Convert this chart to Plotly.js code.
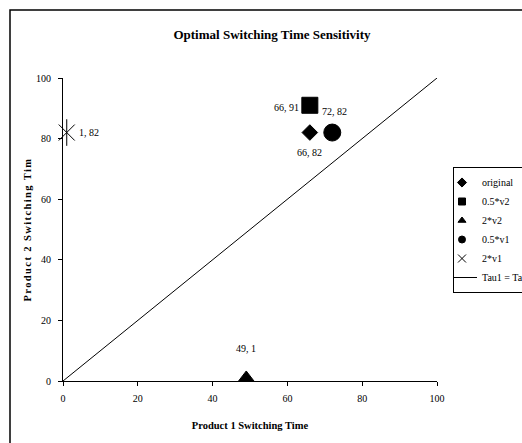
<!DOCTYPE html>
<html>
<head>
<meta charset="utf-8">
<script src="https://cdn.plot.ly/plotly-3.0.1.min.js"></script>
<style>
  html, body { margin: 0; padding: 0; background: #fff; }
  #chart { width: 522px; height: 443px; }
  /* the vertical axis title is set with wider letter spacing */
  #chart .g-ytitle text { letter-spacing: 1.4px; }
</style>
</head>
<body>
<div id="chart"></div>
<script>
// Scenario results: optimal switching times for products 1 and 2
const scenarioNames = ['original', '0.5*v2', '2*v2', '0.5*v1', '2*v1'];
const product1Times = [66, 66, 49, 72, 1];
const product2Times = [82, 91, 1, 82, 82];

// Reference diagonal Tau1 = Tau2
const diagonalName = 'Tau1 = Tau2';
const diagonalX = [0, 100];
const diagonalY = [0, 100];

const xTicks = [0, 20, 40, 60, 80, 100];
const yTicks = [0, 20, 40, 60, 80, 100];

const serif = 'Liberation Serif, Times New Roman, serif';

// marker style per scenario (plot size, legend size)
const markerStyles = [
  { symbol: 'diamond', size: 12, legendSize: 7 },
  { symbol: 'square', size: 16, legendSize: 7 },
  { symbol: 'triangle-up', size: 14, legendSize: 7 },
  { symbol: 'circle', size: 17, legendSize: 7 },
  { symbol: 'x-thin-open', size: 16, legendSize: 8 }
];
// label placement offsets (px) per scenario
const labelOffsets = [
  { xshift: 0, yshift: -20, xanchor: 'center' },
  { xshift: -9, yshift: -2, xanchor: 'right' },
  { xshift: 0, yshift: 29, xanchor: 'center' },
  { xshift: 2, yshift: 21, xanchor: 'center' },
  { xshift: 10, yshift: 0, xanchor: 'left' }
];

// plotted scenario markers
const traces = scenarioNames.map((name, i) => ({
  type: 'scatter',
  mode: 'markers',
  name: name,
  x: [product1Times[i]],
  y: [product2Times[i]],
  marker: {
    symbol: markerStyles[i].symbol,
    size: markerStyles[i].size,
    color: '#000',
    line: { color: '#000', width: 1 }
  },
  showlegend: false,
  cliponaxis: false
}));

// vertical stroke completing the six-armed star marker of the last scenario
const last = scenarioNames.length - 1;
traces.push({
  type: 'scatter',
  mode: 'markers',
  x: [product1Times[last]],
  y: [product2Times[last]],
  marker: { symbol: 'line-ns-open', size: 19, color: '#000', line: { color: '#000', width: 1 } },
  showlegend: false,
  cliponaxis: false
});

// diagonal line
traces.push({
  type: 'scatter',
  mode: 'lines',
  name: diagonalName,
  x: diagonalX,
  y: diagonalY,
  line: { color: '#000', width: 1 },
  showlegend: false
});

// legend entries with small symbols (no points of their own)
scenarioNames.forEach((name, i) => {
  traces.push({
    type: 'scatter',
    mode: 'markers',
    name: name,
    x: [null],
    y: [null],
    marker: {
      symbol: markerStyles[i].symbol,
      size: markerStyles[i].legendSize,
      color: '#000',
      line: { color: '#000', width: 1 }
    },
    showlegend: true
  });
});
traces.push({
  type: 'scatter',
  mode: 'lines',
  name: diagonalName,
  x: [null],
  y: [null],
  line: { color: '#000', width: 1 },
  showlegend: true
});

const annotations = scenarioNames.map((name, i) => ({
  x: product1Times[i],
  y: product2Times[i],
  xref: 'x', yref: 'y',
  text: product1Times[i] + ', ' + product2Times[i],
  showarrow: false,
  xanchor: labelOffsets[i].xanchor,
  yanchor: 'middle',
  xshift: labelOffsets[i].xshift,
  yshift: labelOffsets[i].yshift,
  font: { family: serif, size: 10, color: '#000' }
}));

const axisCommon = {
  range: [0, 100],
  showgrid: false,
  zeroline: false,
  showline: true,
  linecolor: '#000',
  linewidth: 1,
  ticks: 'outside',
  ticklen: 4,
  tickcolor: '#000',
  tickfont: { family: serif, size: 10, color: '#000' },
  fixedrange: true
};

const layout = {
  width: 522,
  height: 443,
  margin: { l: 63, r: 85, t: 78, b: 62, autoexpand: false },
  paper_bgcolor: '#fff',
  plot_bgcolor: '#fff',
  font: { family: serif, color: '#000' },
  title: {
    text: '<b>Optimal Switching Time Sensitivity</b>',
    font: { family: serif, size: 13, color: '#000' },
    x: (272 - 63) / 374, xref: 'paper', xanchor: 'center',
    y: 1 - 34 / 443, yanchor: 'middle'
  },
  xaxis: Object.assign({}, axisCommon, {
    tickvals: xTicks,
    ticklabelstandoff: 4,
    title: { text: '<b>Product 1 Switching Time</b>', font: { family: serif, size: 10.5, color: '#000' }, standoff: 18 }
  }),
  yaxis: Object.assign({}, axisCommon, {
    tickvals: yTicks,
    ticklabelstandoff: 5,
    title: { text: '<b>Product 2 Switching Tim</b>', font: { family: serif, size: 10.5, color: '#000' }, standoff: 2 }
  }),
  legend: {
    x: (453 - 63) / 374,
    y: (381 - 167) / 303,
    xanchor: 'left',
    yanchor: 'top',
    bgcolor: '#fff',
    bordercolor: '#000',
    borderwidth: 1,
    font: { family: serif, size: 10, color: '#000' },
    itemsizing: 'trace',
    itemwidth: 30,
    indentation: -12,
    tracegroupgap: 0
  },
  annotations: annotations,
  shapes: [{
    // outer chart frame
    type: 'rect',
    xref: 'paper', yref: 'paper',
    x0: (10 - 63) / 374, x1: 1.6,
    y0: -0.5, y1: (381 - 10) / 303,
    line: { color: '#000', width: 1.5 },
    fillcolor: 'rgba(0,0,0,0)',
    layer: 'below'
  }],
  showlegend: true
};

Plotly.newPlot('chart', traces, layout, { displayModeBar: false, staticPlot: true });
</script>
</body>
</html>
